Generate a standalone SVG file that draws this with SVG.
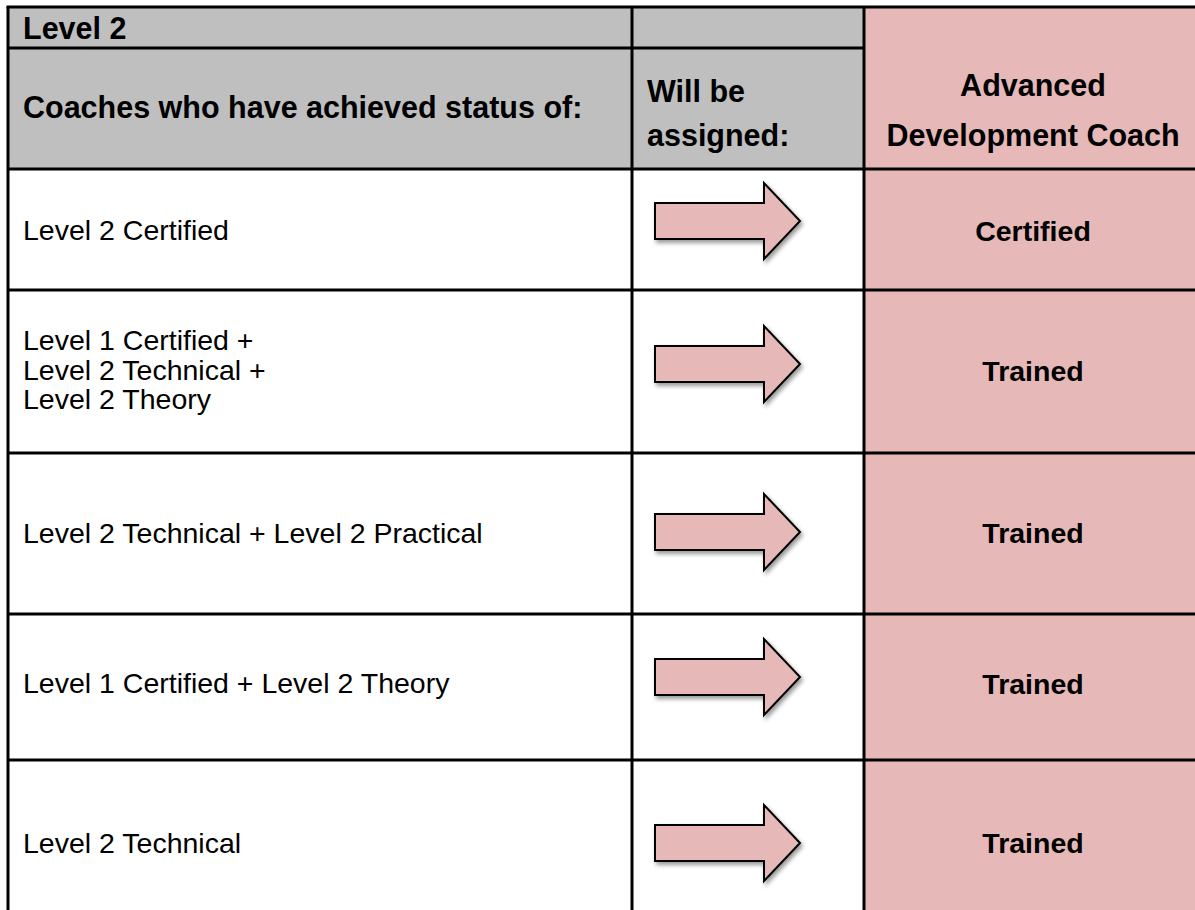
<svg xmlns="http://www.w3.org/2000/svg" width="1195" height="910" viewBox="0 0 1195 910">
<style>
.hd{font-family:"Liberation Sans",Arial,sans-serif;font-weight:bold;font-size:30.5px;fill:#000}
.bd{font-family:"Liberation Sans",Arial,sans-serif;font-size:28.5px;fill:#000}
.pk{font-family:"Liberation Sans",Arial,sans-serif;font-weight:bold;font-size:28.5px;fill:#000;text-anchor:middle}
.ln{stroke:#000;stroke-width:3;fill:none}
.arr{fill:#e6b8b7;stroke:#000;stroke-width:2;stroke-linejoin:miter}
</style>
<defs>
<filter id="sh" x="-20%" y="-30%" width="150%" height="170%">
<feDropShadow dx="2" dy="3" stdDeviation="2" flood-color="#000" flood-opacity="0.4"/>
</filter>
<path id="arrow" d="M655,-18 H764 V-38 L800,0 L764,38 V18 H655 Z"/>
</defs>
<rect x="0" y="0" width="1195" height="910" fill="#fff"/>
<g id="header-bg">
<rect x="8" y="7" width="856" height="162" fill="#bfbfbf"/>
<rect x="864" y="7" width="331" height="903" fill="#e6b8b7"/>
</g>
<g id="grid">
<line class="ln" x1="6.5" y1="7" x2="1195" y2="7"/>
<line class="ln" x1="8" y1="7" x2="8" y2="910"/>
<line class="ln" x1="632" y1="7" x2="632" y2="910"/>
<line class="ln" x1="864" y1="7" x2="864" y2="910"/>
<line class="ln" x1="8" y1="48" x2="864" y2="48"/>
<line class="ln" x1="8" y1="169" x2="1195" y2="169"/>
<line class="ln" x1="8" y1="290" x2="1195" y2="290"/>
<line class="ln" x1="8" y1="453" x2="1195" y2="453"/>
<line class="ln" x1="8" y1="614" x2="1195" y2="614"/>
<line class="ln" x1="8" y1="760" x2="1195" y2="760"/>
</g>
<g id="header">
<text class="hd" x="23" y="39">Level 2</text>
<text class="hd" x="23" y="118">Coaches who have achieved status of:</text>
<text class="hd" x="647" y="102">Will be</text>
<text class="hd" x="647" y="146">assigned:</text>
<text class="hd" x="1033" y="96" text-anchor="middle">Advanced</text>
<text class="hd" x="1033" y="146" text-anchor="middle">Development Coach</text>
</g>
<g id="row1">
<text class="bd" x="23" y="240">Level 2 Certified</text>
<text class="pk" x="1033" y="241">Certified</text>
</g>
<g id="row2">
<text class="bd" x="23" y="350">Level 1 Certified +</text>
<text class="bd" x="23" y="380">Level 2 Technical +</text>
<text class="bd" x="23" y="409">Level 2 Theory</text>
<text class="pk" x="1033" y="381">Trained</text>
</g>
<g id="row3">
<text class="bd" x="23" y="543">Level 2 Technical + Level 2 Practical</text>
<text class="pk" x="1033" y="543">Trained</text>
</g>
<g id="row4">
<text class="bd" x="23" y="693">Level 1 Certified + Level 2 Theory</text>
<text class="pk" x="1033" y="694">Trained</text>
</g>
<g id="row5">
<text class="bd" x="23" y="853">Level 2 Technical</text>
<text class="pk" x="1033" y="853">Trained</text>
</g>
<g id="connectors" filter="url(#sh)">
<use href="#arrow" class="arr" transform="translate(0,221)"/>
<use href="#arrow" class="arr" transform="translate(0,364)"/>
<use href="#arrow" class="arr" transform="translate(0,532)"/>
<use href="#arrow" class="arr" transform="translate(0,677)"/>
<use href="#arrow" class="arr" transform="translate(0,843)"/>
</g>
</svg>
